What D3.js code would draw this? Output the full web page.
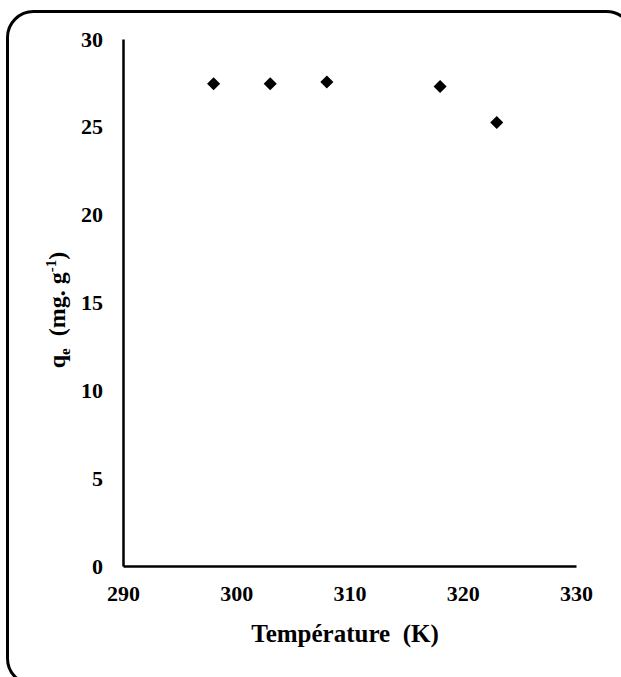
<!DOCTYPE html>
<html>
<head>
<meta charset="utf-8">
<script src="https://cdn.jsdelivr.net/npm/d3@7"></script>
<style>
  body { margin: 0; background: #fff; }
  svg text { font-family: "Liberation Serif", "Times New Roman", serif !important; font-weight: bold; fill: #000; }
</style>
</head>
<body>
<div id="chart"></div>
<script>
// temperature (K) vs adsorbed quantity qe (mg/g)
var temperatures = [298, 303, 308, 318, 323];
var qe = [27.45, 27.45, 27.55, 27.3, 25.25];
var xTicks = [290, 300, 310, 320, 330];
var yTicks = [0, 5, 10, 15, 20, 25, 30];

const width = 621, height = 677;
var margin = {left: 123, right: 45, top: 39, bottom: 111};

var svg = d3.select("#chart").append("svg")
    .attr("width", width)
    .attr("height", height);

// outer rounded frame
svg.append("rect")
    .attr("x", 7.5)
    .attr("y", 11.5)
    .attr("width", 625)
    .attr("height", 673)
    .attr("rx", 26)
    .attr("fill", "none")
    .attr("stroke", "#000")
    .attr("stroke-width", 3);

var x = d3.scaleLinear().domain([290, 330]).range([margin.left, width - margin.right]);
var y = d3.scaleLinear().domain([0, 30]).range([height - margin.bottom, margin.top]);

// x axis
var xAxis = svg.append("g")
    .attr("transform", "translate(0," + y(0) + ")")
    .attr("font-family", null)
    .call(d3.axisBottom(x).tickValues(xTicks).tickSize(0).tickPadding(19).tickFormat(d3.format("d")));
xAxis.select(".domain").attr("stroke", "#000").attr("stroke-width", 2.5);
xAxis.selectAll("text").style("font-size", "22px");

// y axis
var yAxis = svg.append("g")
    .attr("transform", "translate(" + x(290) + ",0)")
    .attr("font-family", null)
    .call(d3.axisLeft(y).tickValues(yTicks).tickSize(0).tickPadding(20).tickFormat(d3.format("d")));
yAxis.select(".domain").attr("stroke", "#000").attr("stroke-width", 2.5);
yAxis.selectAll("text").style("font-size", "22px");

// x title
svg.append("text")
    .attr("x", 345)
    .attr("y", 642)
    .attr("text-anchor", "middle")
    .style("font-size", "25px")
    .style("white-space", "pre")
    .text("Température  (K)");

// y title with subscript / superscript
var yt = svg.append("text")
    .attr("transform", "translate(65,310) rotate(-90)")
    .attr("text-anchor", "middle")
    .style("font-size", "24px")
    .style("white-space", "pre");
yt.append("tspan").text("q");
yt.append("tspan").attr("dy", 5).style("font-size", "15px").text("e");
yt.append("tspan").attr("dy", -5).text("  (mg. g");
yt.append("tspan").attr("dy", -9).style("font-size", "15px").text("-1");
yt.append("tspan").attr("dy", 9).text(")");

// markers
svg.append("g").selectAll("path")
    .data(temperatures)
    .enter()
    .append("path")
    .attr("d", d3.symbol().type(d3.symbolDiamond2).size(108))
    .attr("transform", function(d, i) { return "translate(" + x(d) + "," + y(qe[i]) + ")"; })
    .attr("fill", "#000");
</script>
</body>
</html>
